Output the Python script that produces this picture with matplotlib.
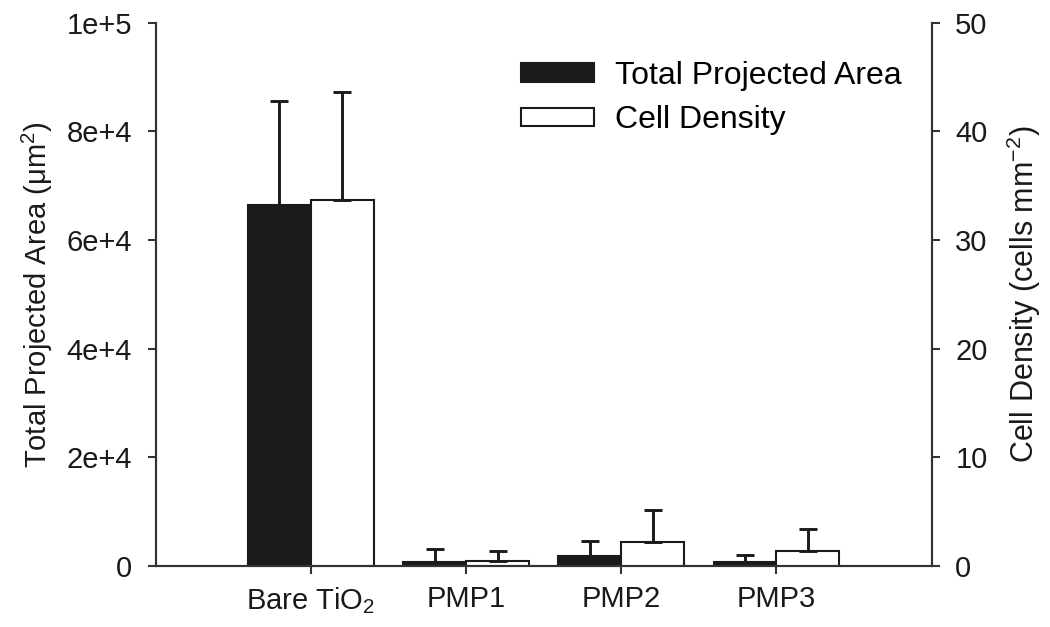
import matplotlib
matplotlib.use("Agg")
import matplotlib.pyplot as plt
import numpy as np

plt.rcParams['font.family'] = ['Liberation Sans', 'DejaVu Sans']
plt.rcParams['mathtext.fontset'] = 'custom'
plt.rcParams['mathtext.rm'] = 'Liberation Sans'
plt.rcParams['mathtext.it'] = 'Liberation Sans:italic'
plt.rcParams['mathtext.default'] = 'regular'

categories = [r'Bare TiO$_2$', 'PMP1', 'PMP2', 'PMP3']
area_mean = [66460, 680, 1840, 740]          # um^2
area_err = [19110, 2340, 2710, 1290]
density_mean = [33.7, 0.46, 2.18, 1.38]      # cells mm^-2
density_err = [9.97, 0.89, 2.95, 1.97]

x = np.arange(len(categories))
w = 0.405
ink = '#1a1a1a'

fig = plt.figure(figsize=(10.5, 6.27), dpi=100)
ax = fig.add_axes([0.1483, 0.0978, 0.739, 0.8656])
ax2 = ax.twinx()

b1 = ax.bar(x - w / 2, area_mean, w, color=ink, edgecolor=ink,
            linewidth=1.5, label='Total Projected Area')
ax.errorbar(x - w / 2, area_mean, yerr=[np.zeros(4), area_err], fmt='none',
            ecolor=ink, elinewidth=2.1, capsize=6.5, capthick=2.1)
b2 = ax2.bar(x + w / 2, density_mean, w, color='white', edgecolor=ink,
             linewidth=1.5, label='Cell Density')
ax2.errorbar(x + w / 2, density_mean, yerr=[np.zeros(4), density_err], fmt='none',
             ecolor=ink, elinewidth=2.1, capsize=6.5, capthick=2.1)

ax.set_xlim(-1, 4)
ax.set_ylim(0, 100000)
ax2.set_ylim(0, 50)

ax.set_yticks([0, 20000, 40000, 60000, 80000, 100000])
ax.set_yticklabels(['0', '2e+4', '4e+4', '6e+4', '8e+4', '1e+5'])
ax2.set_yticks([0, 10, 20, 30, 40, 50])
ax.set_xticks(x)
ax.set_xticklabels(categories)

for a in (ax, ax2):
    a.spines['top'].set_visible(False)
    for s in a.spines.values():
        s.set_linewidth(1.5)
        s.set_color('#333333')
    a.tick_params(direction='out', length=6, width=1.5, color='#333333',
                  labelcolor=ink, labelsize=21, pad=11)
ax.tick_params(axis='x', pad=8)

ax.set_ylabel(r'Total Projected Area ($\mu$m$^2$)', fontsize=21, labelpad=8, color=ink)
ax2.set_ylabel('Cell Density (cells mm$^{-2}$)', fontsize=22, labelpad=12, color=ink)

ax.legend([b1, b2], ['Total Projected Area', 'Cell Density'], loc='upper left',
          bbox_to_anchor=(0.471, 0.93), frameon=False, fontsize=23,
          borderpad=0, borderaxespad=0,
          handlelength=2.28, handleheight=0.5, handletextpad=0.66, labelspacing=0.45)

fig.savefig('out.png', dpi=100)
